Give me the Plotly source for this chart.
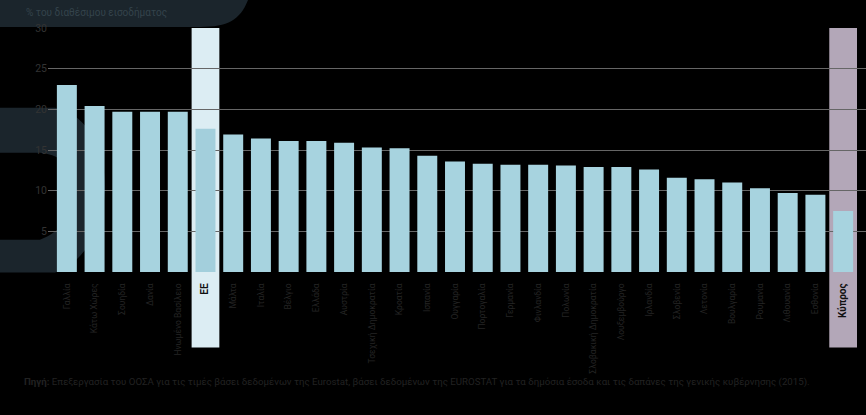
import plotly.graph_objects as go

categories = ["Γαλλία", "Κάτω Χώρες", "Σουηδία", "Δανία", "Ηνωμένο Βασίλειο", "EE",
              "Μάλτα", "Ιταλία", "Βέλγιο", "Ελλάδα", "Αυστρία", "Τσεχική Δημοκρατία",
              "Κροατία", "Ισπανία", "Ουγγαρία", "Πορτογαλία", "Γερμανία", "Φινλανδία",
              "Πολωνία", "Σλοβακική Δημοκρατία", "Λουξεμβούργο", "Ιρλανδία", "Σλοβενία",
              "Λετονία", "Βουλγαρία", "Ρουμανία", "Λιθουανία", "Εσθονία", "Κύπρος"]
values = [23.0, 20.4, 19.7, 19.7, 19.7, 17.6,
          16.9, 16.4, 16.1, 16.1, 15.9, 15.3,
          15.2, 14.3, 13.6, 13.3, 13.2, 13.2,
          13.1, 12.9, 12.9, 12.6, 11.6,
          11.4, 11.0, 10.3, 9.7, 9.5, 7.5]
y_ticks = [0, 5, 10, 15, 20, 25, 30]
title_text = "% του διαθέσιμου εισοδήματος"
source_text = ("<b>Πηγή:</b> Επεξεργασία του ΟΟΣΑ για τις τιμές βάσει δεδομένων της Eurostat, "
               "βάσει δεδομένων της EUROSTAT για τα δημόσια έσοδα και τις δαπάνες της γενικής κυβέρνησης (2015).")

W, H = 866, 415
L, T = 48, 28
PLOT_W = 818
PLOT_BOTTOM = 272.4
PLOT_H = PLOT_BOTTOM - T


def fx(px):
    return (px - L) / PLOT_W


def fy(py):
    return (PLOT_BOTTOM - py) / PLOT_H


ee_idx = categories.index("EE")
cy_idx = categories.index("Κύπρος")

ticktext = []
for c in categories:
    if c == "EE" or c == "Κύπρος":
        ticktext.append(f"<b><span style='color:#111111;font-size:10px'>{c}</span></b>")
    else:
        ticktext.append(c)

bar_color = "#a7d3df"
colors = [bar_color] * len(categories)
colors[ee_idx] = "#a3cfdc"

fig = go.Figure()
fig.add_trace(go.Bar(
    x=list(range(len(categories))), y=values,
    marker=dict(color=colors, line=dict(width=0)),
    width=0.72, hoverinfo="skip",
))

shapes = []
deco = "#1b252c"
shapes.append(dict(
    type="path", xref="paper", yref="paper", layer="below",
    path=(f"M {fx(0)},{fy(0)} L {fx(248)},{fy(0)} "
          f"C {fx(240)},{fy(20)} {fx(228)},{fy(27)} {fx(200)},{fy(27)} "
          f"L {fx(0)},{fy(27)} Z"),
    fillcolor=deco, line=dict(width=0)))
shapes.append(dict(
    type="path", xref="paper", yref="paper", layer="below",
    path=(f"M {fx(0)},{fy(108)} L {fx(55)},{fy(108)} "
          f"C {fx(92)},{fy(115)} {fx(106)},{fy(158)} {fx(105)},{fy(190)} "
          f"C {fx(103)},{fy(230)} {fx(85)},{fy(262)} {fx(55)},{fy(273)} "
          f"L {fx(0)},{fy(273)} L {fx(0)},{fy(240)} L {fx(40)},{fy(240)} "
          f"C {fx(62)},{fy(232)} {fx(76)},{fy(212)} {fx(76)},{fy(192)} "
          f"C {fx(76)},{fy(172)} {fx(64)},{fy(155)} {fx(40)},{fy(153)} "
          f"L {fx(0)},{fy(153)} Z"),
    fillcolor=deco, line=dict(width=0)))
for idx, col in [(ee_idx, "#dcedf3"), (cy_idx, "#b3a7b8")]:
    shapes.append(dict(
        type="rect", xref="x", yref="paper", layer="between",
        x0=idx - 0.5, x1=idx + 0.5, y0=fy(348), y1=1,
        fillcolor=col, line=dict(width=0)))

fig.update_layout(
    width=W, height=H,
    margin=dict(l=L, r=0, t=T, b=H - PLOT_BOTTOM),
    paper_bgcolor="#000000", plot_bgcolor="rgba(0,0,0,0)",
    showlegend=False, bargap=0.28,
    font=dict(family="Roboto, sans-serif", size=10, color="#2a2a2a"),
    shapes=shapes,
    xaxis=dict(
        tickmode="array", tickvals=list(range(len(categories))), ticktext=ticktext,
        tickangle=-90, range=[-0.5 - (53 - L) / 27.73, len(categories) - 0.5 + 9 / 27.73],
        showgrid=False, zeroline=False, showline=False,
        ticks="outside", ticklen=7, tickcolor="rgba(0,0,0,0)",
        tickfont=dict(size=8.5, color="#242424"),
    ),
    yaxis=dict(
        range=[0, 30], tickmode="array", tickvals=y_ticks,
        ticktext=["" if v == 0 else str(v) for v in y_ticks],
        showgrid=True, gridcolor="#666666", gridwidth=1, zeroline=False,
        showline=False, ticks="", tickfont=dict(size=10.5, color="#333333"),
    ),
    annotations=[
        dict(text=title_text, xref="paper", yref="paper", x=fx(24), y=fy(13),
             xanchor="left", yanchor="middle", showarrow=False,
             font=dict(size=10, color="#34434b")),
        dict(text=source_text, xref="paper", yref="paper", x=fx(22), y=fy(383),
             xanchor="left", yanchor="middle", showarrow=False,
             font=dict(size=9.7, color="#222222")),
    ],
)

fig.write_html("out.html")
